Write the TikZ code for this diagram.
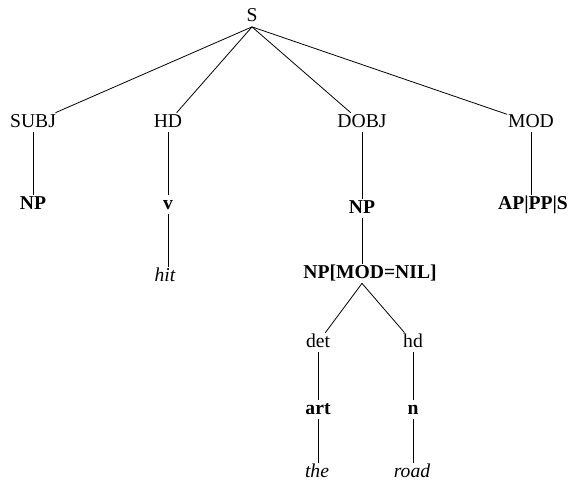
\documentclass[tikz,border=0pt]{standalone}
\usepackage{fontspec}
\setmainfont{Liberation Serif}
\newcommand{\treesize}{\fontsize{19.7}{23}\selectfont}

\begin{document}
\begin{tikzpicture}[line width=0.8pt,
  lab/.style={anchor=base,inner sep=0.5pt,text height=13.5pt,text depth=4.5pt,font=\treesize},
  cat/.style={lab,font=\treesize\bfseries},
  wrd/.style={lab,font=\treesize\itshape}]
\useasboundingbox (0bp,0bp) rectangle (583bp,-482bp);

\node (S) at (252bp,-21.5bp)[lab] {S};
\node (SUBJ) at (33bp,-127bp)[lab] {SUBJ};
\node (HD) at (168bp,-127bp)[lab] {HD};
\node (DOBJ) at (362bp,-127bp)[lab] {DOBJ};
\node (MOD) at (531bp,-127bp)[lab] {MOD};
\node (NPsubj) at (33bp,-209bp)[cat] {NP};
\node (V) at (168bp,-209bp)[cat] {v};
\node (NPobj) at (362bp,-213bp)[cat] {NP};
\node (APPP) at (533bp,-209bp)[cat] {AP|PP|S};
\node (hit) at (165bp,-281bp)[wrd] {hit};
\node (NPnil) at (370bp,-278bp)[cat] {NP[MOD=NIL]};
\node (det) at (318bp,-347bp)[lab] {det};
\node (hd) at (413bp,-347bp)[lab] {hd};
\node (art) at (318bp,-414bp)[cat] {art};
\node (n) at (413bp,-414bp)[cat] {n};
\node (the) at (317bp,-477bp)[wrd] {the};
\node (road) at (412bp,-477bp)[wrd] {road};

\draw (S.south) -- (SUBJ);
\draw (S.south) -- (HD);
\draw (S.south) -- (DOBJ);
\draw (S.south) -- (MOD);
\draw (SUBJ) -- (NPsubj);
\draw (HD) -- (V);
\draw (V) -- (V |- hit.north);
\draw (DOBJ) -- (NPobj);
\draw (MOD) -- (MOD |- APPP.north);
\draw (NPobj) -- (NPobj |- NPnil.north);
\draw (NPobj |- NPnil.south) -- (det);
\draw (NPobj |- NPnil.south) -- (hd);
\draw (det) -- (art);
\draw (art) -- (art |- the.north);
\draw (hd) -- (n);
\draw (n) -- (n |- road.north);
\end{tikzpicture}
\end{document}
